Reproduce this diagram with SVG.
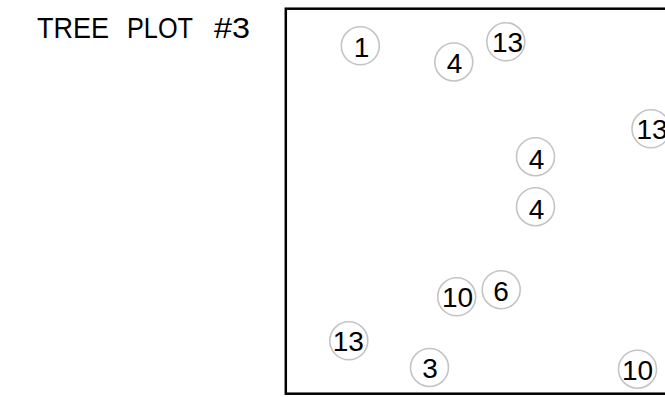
<svg xmlns="http://www.w3.org/2000/svg" width="665" height="397" viewBox="0 0 665 397">
<style>
.t{font-family:"Liberation Sans",Arial,sans-serif;font-size:28px;fill:#000;text-anchor:middle}
.c{fill:none;stroke:#c4c4c4;stroke-width:1.6}
.title{font-family:"Liberation Sans",Arial,sans-serif;font-size:29px;fill:#000}
</style>
<rect x="0" y="0" width="665" height="397" fill="#fff"/>
<g id="title">
<text class="title" x="37" y="38.3" textLength="72" lengthAdjust="spacingAndGlyphs">TREE</text>
<text class="title" x="127" y="38.3" textLength="66" lengthAdjust="spacingAndGlyphs">PLOT</text>
<text class="title" x="214" y="38.3" textLength="36" lengthAdjust="spacingAndGlyphs">#3</text>
</g>
<g id="frame"><rect x="285.8" y="8.7" width="400" height="385" fill="none" stroke="#000" stroke-width="2.5"/></g>
<g id="tree-1"><circle class="c" cx="360.3" cy="45.8" r="19"/><text class="t" x="361.5" y="56.5">1</text></g>
<g id="tree-4a"><circle class="c" cx="453.8" cy="62" r="19"/><text class="t" x="454.5" y="73.3">4</text></g>
<g id="tree-13a"><circle class="c" cx="505.8" cy="41.8" r="19"/><text class="t" x="507.5" y="51.7">13</text></g>
<g id="tree-13b"><circle class="c" cx="651" cy="128.8" r="19"/><text class="t" x="652" y="139.3">13</text></g>
<g id="tree-4b"><circle class="c" cx="535.5" cy="156.7" r="19"/><text class="t" x="536.5" y="168.8">4</text></g>
<g id="tree-4c"><circle class="c" cx="535.5" cy="206.7" r="19"/><text class="t" x="536.5" y="218.5">4</text></g>
<g id="tree-10a"><circle class="c" cx="456.7" cy="296.8" r="19"/><text class="t" x="457.5" y="307.3">10</text></g>
<g id="tree-6"><circle class="c" cx="501.2" cy="289.7" r="19"/><text class="t" x="501" y="301">6</text></g>
<g id="tree-13c"><circle class="c" cx="348.8" cy="340.8" r="19"/><text class="t" x="348.3" y="351">13</text></g>
<g id="tree-3"><circle class="c" cx="429.5" cy="367.5" r="19"/><text class="t" x="430" y="378.3">3</text></g>
<g id="tree-10b"><circle class="c" cx="637.5" cy="369.2" r="19"/><text class="t" x="637.5" y="380">10</text></g>
</svg>
